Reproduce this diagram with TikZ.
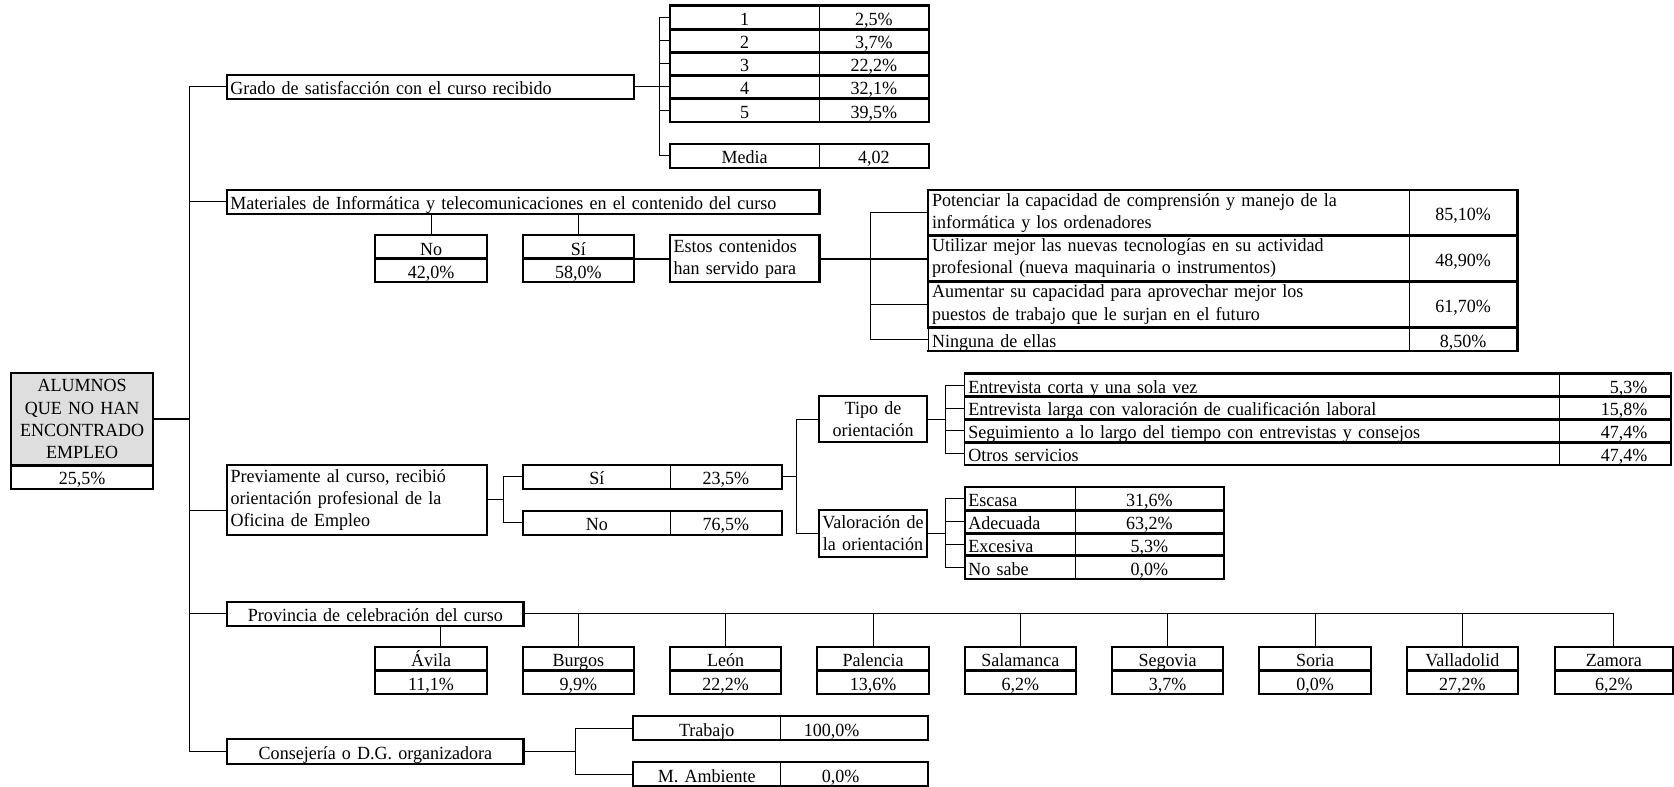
\documentclass[tikz,border=0pt]{standalone}
\usepackage{fontspec}
\setmainfont{Liberation Serif}[FakeStretch=0.97]
\newcommand\fs{\fontsize{8.7}{10.4}\selectfont}
\definecolor{rootgray}{RGB}{222,222,222}
\tikzset{
  cellbox/.style={draw=none, inner xsep=1.5pt, inner ysep=0pt, text height=7.4pt, text depth=0pt, align=center, font=\fs},
  ml/.style={text height={}, text depth={}},
  lft/.style={align=left},
  thk/.style={line width=1pt, line cap=rect},
  thn/.style={line width=0.55pt},
  conn/.style={line width=0.45pt},
  midconn/.style={line width=0.8pt},
  rootconn/.style={line width=1pt},
}
% #1 options, #2 name, #3 x1, #4 y1, #5 x2, #6 y2, #7 text
\newcommand\cell[7][]{%
  \pgfmathsetmacro\cw{(#5-#3)*0.5}%
  \pgfmathsetmacro\chh{(#6-#4)*0.5}%
  \pgfmathsetmacro\tw{(#5-#3)*0.5-3}%
  \node[cellbox, minimum width=\cw pt, minimum height=\chh pt, text width=\tw pt, #1] (#2) at ({(#3+#5)/2},{(#4+#6)/2}) {#7};}
% table row: #1 left-edge style, #2 left node, #3 right node
\newcommand\rowbox[3][thk]{%
  \draw[thn] (#2.north east) -- (#2.south east);
  \draw[#1] (#2.north west) -- (#2.south west);
  \draw[thk] (#2.south west) -- (#3.south east) -- (#3.north east) -- (#2.north west);}
\newcommand\boxit[1]{\draw[thk] (#1.north west) rectangle (#1.south east);}
\begin{document}
\begin{tikzpicture}[x=0.5pt,y=-0.5pt]
\useasboundingbox (0,0) rectangle (1568,737);
% bracket x positions
\coordinate (mainv) at (177.5,0);
\coordinate (gbx) at (618,0);
\coordinate (bbx) at (815,0);
\coordinate (pbx) at (471.5,0);
\coordinate (qbx) at (746,0);
\coordinate (tbx) at (885.2,0);
\coordinate (cbx) at (539.3,0);

% ---------- root ----------
\cell[fill=rootgray, ml]{root}{11}{349.7}{143}{435.6}{ALUMNOS\\QUE NO HAN\\ENCONTRADO\\EMPLEO}
\cell{rootv}{11}{435.6}{143}{457.4}{25,5\%}
\boxit{root}\boxit{rootv}

% ---------- Grado ----------
\cell[lft]{grado}{212.8}{70.3}{593.2}{92.5}{Grado de satisfacción con el curso recibido}
\boxit{grado}
\cell{g1a}{628}{5.6}{767}{27.3}{1}      \cell{g1b}{767}{5.6}{870}{27.3}{2,5\%}
\cell{g2a}{628}{27.3}{767}{49}{2}       \cell{g2b}{767}{27.3}{870}{49}{3,7\%}
\cell{g3a}{628}{49}{767}{70.7}{3}       \cell{g3b}{767}{49}{870}{70.7}{22,2\%}
\cell{g4a}{628}{70.7}{767}{92.4}{4}     \cell{g4b}{767}{70.7}{870}{92.4}{32,1\%}
\cell{g5a}{628}{92.4}{767}{114.1}{5}    \cell{g5b}{767}{92.4}{870}{114.1}{39,5\%}
\cell{gma}{628}{135.2}{767}{156.9}{Media} \cell{gmb}{767}{135.2}{870}{156.9}{4,02}
\rowbox[thn]{g1a}{g1b}\rowbox[thn]{g2a}{g2b}\rowbox[thn]{g3a}{g3b}
\rowbox[thn]{g4a}{g4b}\rowbox[thn]{g5a}{g5b}\rowbox[thn]{gma}{gmb}
\draw[conn] (grado.east) -- (grado.east -| g4a.west);
\draw[conn] (g1a.west) -- (g1a.west -| gbx) -- (gma.west -| gbx) -- (gma.west);
\foreach \r in {g2a,g3a,g5a}{\draw[conn] (\r.west) -- (\r.west -| gbx);}

% ---------- Materiales ----------
\cell[lft]{mat}{212.8}{178}{767.2}{199.7}{Materiales de Informática y telecomunicaciones en el contenido del curso}
\boxit{mat}
\cell{no1}{352}{220.7}{455.5}{242.4}{No}  \cell{no2}{352}{242.4}{455.5}{264.1}{42,0\%}
\cell{si1}{490}{220.7}{593.5}{242.4}{Sí}  \cell{si2}{490}{242.4}{593.5}{264.1}{58,0\%}
\boxit{no1}\boxit{no2}\boxit{si1}\boxit{si2}
\cell[lft,ml]{estos}{628}{220.7}{767.2}{264.1}{Estos contenidos\\han servido para}
\boxit{estos}
\draw[conn] (no1.north) -- (no1.north |- mat.south);
\draw[conn] (si1.north) -- (si1.north |- mat.south);
\draw[midconn] (estos.west) -- (estos.west -| si1.east);
\cell[lft,ml]{b1a}{870}{178}{1320}{220.5}{Potenciar la capacidad de comprensión y manejo de la\\informática y los ordenadores}
\cell{b1b}{1320}{178}{1421}{220.5}{85,10\%}
\cell[lft,ml]{b2a}{870}{220.5}{1320}{263.5}{Utilizar mejor las nuevas tecnologías en su actividad\\profesional (nueva maquinaria o instrumentos)}
\cell{b2b}{1320}{220.5}{1421}{263.5}{48,90\%}
\cell[lft,ml]{b3a}{870}{263.5}{1320}{307}{Aumentar su capacidad para aprovechar mejor los\\puestos de trabajo que le surjan en el futuro}
\cell{b3b}{1320}{263.5}{1421}{307}{61,70\%}
\cell[lft]{b4a}{870}{307}{1320}{328.7}{Ninguna de ellas}
\cell{b4b}{1320}{307}{1421}{328.7}{8,50\%}
\rowbox{b1a}{b1b}\rowbox{b2a}{b2b}\rowbox{b3a}{b3b}\rowbox[thn]{b4a}{b4b}
\draw[midconn] (estos.east) -- (estos.east -| b2a.west);
\draw[conn] (b1a.west) -- (b1a.west -| bbx) -- (b4a.west -| bbx) -- (b4a.west);
\draw[conn] (b3a.west) -- (b3a.west -| bbx);

% ---------- Previamente ----------
\cell[lft,ml]{prev}{213}{435.6}{455.5}{500.8}{Previamente al curso, recibió\\orientación profesional de la\\Oficina de Empleo}
\boxit{prev}
\cell{psi}{490}{435.6}{628}{457.3}{Sí}   \cell{psiv}{628}{435.6}{732}{457.3}{23,5\%}
\cell{pno}{490}{478.7}{628}{500.4}{No}   \cell{pnov}{628}{478.7}{732}{500.4}{76,5\%}
\rowbox{psi}{psiv}\rowbox{pno}{pnov}
\draw[conn] (prev.east) -- (prev.east -| pbx);
\draw[conn] (psi.west) -- (psi.west -| pbx) -- (pno.west -| pbx) -- (pno.west);
\cell[ml]{tipo}{767.5}{371.6}{868}{413.7}{Tipo de\\orientación}
\cell[ml,inner xsep=0.3pt,text width=49.6pt]{val}{767.5}{478}{868}{521.4}{Valoración de\\la orientación}
\boxit{tipo}\boxit{val}
\draw[conn] (psiv.east) -- (psiv.east -| qbx);
\draw[conn] (tipo.west) -- (tipo.west -| qbx) -- (val.west -| qbx) -- (val.west);
% tipo table
\cell[lft]{t1a}{904}{350.3}{1460}{371.6}{Entrevista corta y una sola vez}
\cell[align=right]{t1b}{1460}{350.3}{1565}{371.6}{5,3\%\kern9.5pt}
\cell[lft]{t2a}{904}{371.6}{1460}{392.9}{Entrevista larga con valoración de cualificación laboral}
\cell[align=right]{t2b}{1460}{371.6}{1565}{392.9}{15,8\%\kern9.5pt}
\cell[lft]{t3a}{904}{392.9}{1460}{414.2}{Seguimiento a lo largo del tiempo con entrevistas y consejos}
\cell[align=right]{t3b}{1460}{392.9}{1565}{414.2}{47,4\%\kern9.5pt}
\cell[lft]{t4a}{904}{414.2}{1460}{435.5}{Otros servicios}
\cell[align=right]{t4b}{1460}{414.2}{1565}{435.5}{47,4\%\kern9.5pt}
\rowbox[thn]{t1a}{t1b}\rowbox[thn]{t2a}{t2b}\rowbox[thn]{t3a}{t3b}\rowbox[thn]{t4a}{t4b}
\draw[conn] (tipo.east) -- (tipo.east -| tbx);
\draw[conn] (t1a.west) -- (t1a.west -| tbx) -- (t4a.west -| tbx) -- (t4a.west);
\foreach \r in {t2a,t3a}{\draw[conn] (\r.west) -- (\r.west -| tbx);}
% valoracion table
\cell[lft]{v1a}{904}{456.5}{1007}{477.9}{Escasa}   \cell{v1b}{1007}{456.5}{1146}{477.9}{31,6\%}
\cell[lft]{v2a}{904}{477.9}{1007}{499.3}{Adecuada} \cell{v2b}{1007}{477.9}{1146}{499.3}{63,2\%}
\cell[lft]{v3a}{904}{499.3}{1007}{520.7}{Excesiva} \cell{v3b}{1007}{499.3}{1146}{520.7}{5,3\%}
\cell[lft]{v4a}{904}{520.7}{1007}{542.1}{No sabe}  \cell{v4b}{1007}{520.7}{1146}{542.1}{0,0\%}
\rowbox{v1a}{v1b}\rowbox{v2a}{v2b}\rowbox{v3a}{v3b}\rowbox{v4a}{v4b}
\draw[conn] (val.east) -- (val.east -| tbx);
\draw[conn] (v1a.west) -- (v1a.west -| tbx) -- (v4a.west -| tbx) -- (v4a.west);
\foreach \r in {v2a,v3a}{\draw[conn] (\r.west) -- (\r.west -| tbx);}

% ---------- Provincia ----------
\cell{prov}{213.3}{564.2}{490}{586}{Provincia de celebración del curso}
\boxit{prov}
\cell{avi1}{352}{606.3}{455.5}{628.2}{Ávila}        \cell{avi2}{352}{628.2}{455.5}{650}{11,1\%}
\cell{bur1}{490}{606.3}{593.5}{628.2}{Burgos}       \cell{bur2}{490}{628.2}{593.5}{650}{9,9\%}
\cell{leo1}{628}{606.3}{731.5}{628.2}{León}         \cell{leo2}{628}{628.2}{731.5}{650}{22,2\%}
\cell{pal1}{766}{606.3}{869.5}{628.2}{Palencia}     \cell{pal2}{766}{628.2}{869.5}{650}{13,6\%}
\cell{sal1}{904}{606.3}{1007.5}{628.2}{Salamanca}   \cell{sal2}{904}{628.2}{1007.5}{650}{6,2\%}
\cell{seg1}{1042}{606.3}{1145.5}{628.2}{Segovia}    \cell{seg2}{1042}{628.2}{1145.5}{650}{3,7\%}
\cell{sor1}{1180}{606.3}{1283.5}{628.2}{Soria}      \cell{sor2}{1180}{628.2}{1283.5}{650}{0,0\%}
\cell{val1}{1318}{606.3}{1421.5}{628.2}{Valladolid} \cell{val2}{1318}{628.2}{1421.5}{650}{27,2\%}
\cell{zam1}{1457}{606.3}{1566.5}{628.2}{Zamora}     \cell{zam2}{1457}{628.2}{1566.5}{650}{6,2\%}
\foreach \p in {avi,bur,leo,pal,sal,seg,sor,val,zam}{\boxit{\p1}\boxit{\p2}}
\draw[conn] (prov.east) -- (prov.east -| zam1.north) -- (zam1.north);
\foreach \p in {bur,leo,pal,sal,seg,sor,val}{\draw[conn] (\p1.north) -- (\p1.north |- prov.east);}
\draw[conn] ([xshift=4.5pt]avi1.north) -- ([xshift=4.5pt]avi1.north |- prov.south);

% ---------- Consejeria ----------
\cell{cons}{213.3}{693}{490}{715}{Consejería o D.G. organizadora}
\boxit{cons}
\cell{trab}{593}{671.2}{731}{693}{Trabajo}
\cell[align=right]{trabv}{731}{671.2}{869}{693}{100,0\%\kern30.5pt}
\cell{amb}{593}{714.3}{731}{736.2}{M. Ambiente}
\cell[align=right]{ambv}{731}{714.3}{869}{736.2}{0,0\%\kern30.5pt}
\rowbox{trab}{trabv}\rowbox{amb}{ambv}
\draw[conn] (cons.east) -- (cons.east -| cbx);
\draw[conn] (trab.west) -- (trab.west -| cbx) -- (amb.west -| cbx) -- (amb.west);

% ---------- main trunk ----------
\draw[rootconn] (root.east) -- (root.east -| mainv);
\draw[conn] (grado.west) -- (grado.west -| mainv) -- (cons.west -| mainv) -- (cons.west);
\draw[conn] (mat.west) -- (mat.west -| mainv);
\draw[conn] ([yshift=-5pt]prev.west) -- ([yshift=-5pt]prev.west -| mainv);
\draw[conn] (prov.west) -- (prov.west -| mainv);
\end{tikzpicture}
\end{document}
